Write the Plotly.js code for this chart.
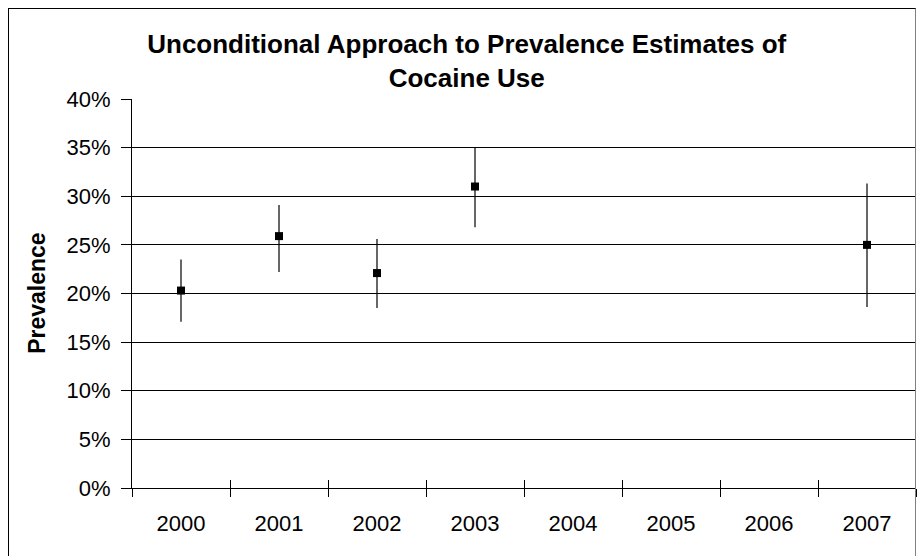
<!DOCTYPE html>
<html>
<head>
<meta charset="utf-8">
<script src="https://cdn.plot.ly/plotly-3.0.1.min.js"></script>
<style>
  html, body { margin: 0; padding: 0; background: #fff; overflow: hidden; }
  #wrap { position: relative; width: 917px; height: 556px; }
  #chart { position: absolute; left: 0; top: 0; width: 917px; height: 556px; }
  #frame {
    position: absolute; left: 8px; top: 8px; width: 908px; height: 600px;
    border-left: 1px solid #000; border-top: 1px solid #000; border-right: 1px solid #808080;
    pointer-events: none; box-sizing: border-box; z-index: 10;
  }
</style>
</head>
<body>
<div id="wrap">
  <div id="chart"></div>
  <div id="frame"></div>
</div>
<script>
// Categories (all years on the axis)
const years = ["2000", "2001", "2002", "2003", "2004", "2005", "2006", "2007"];
// Years with estimates
const estYears = ["2000", "2001", "2002", "2003", "2007"];
// Prevalence point estimates (fractions)
const prevalence = [0.203, 0.259, 0.221, 0.310, 0.250];
// Upper and lower confidence bounds (fractions)
const upperBound = [0.235, 0.291, 0.256, 0.350, 0.313];
const lowerBound = [0.171, 0.222, 0.185, 0.268, 0.186];
// Y tick values
const yTicks = [0, 0.05, 0.10, 0.15, 0.20, 0.25, 0.30, 0.35, 0.40];

const errPlus = prevalence.map((v, i) => +(upperBound[i] - v).toFixed(4));
const errMinus = prevalence.map((v, i) => +(v - lowerBound[i]).toFixed(4));

const FONT = "Liberation Sans, Arial, sans-serif";

const traces = [
  {
    type: "scatter",
    mode: "markers",
    x: estYears,
    y: prevalence,
    xaxis: "x",
    yaxis: "y",
    marker: { symbol: "square", size: 8, color: "#000" },
    error_y: {
      type: "data",
      symmetric: false,
      array: errPlus,
      arrayminus: errMinus,
      color: "#000",
      thickness: 1.2,
      width: 0
    },
    showlegend: false,
    hoverinfo: "x+y"
  },
  {
    // helper trace so the overlay axis knows all categories (draws inner tick marks)
    type: "scatter",
    mode: "markers",
    x: years,
    y: years.map(() => null),
    xaxis: "x2",
    yaxis: "y",
    marker: { opacity: 0 },
    showlegend: false,
    hoverinfo: "skip"
  }
];

const layout = {
  width: 917,
  height: 556,
  margin: { l: 132, r: 1, t: 99, b: 68 },
  paper_bgcolor: "#fff",
  plot_bgcolor: "#fff",
  font: { family: FONT, color: "#000" },
  title: {
    text: "<b>Unconditional Approach to Prevalence Estimates of<br>Cocaine Use</b>",
    font: { family: FONT, size: 26, color: "#000" },
    xref: "container",
    x: 0.509,
    xanchor: "center",
    yref: "container",
    y: 0.905,
    yanchor: "top"
  },
  xaxis: {
    type: "category",
    categoryorder: "array",
    categoryarray: years,
    range: [-0.5, 7.5],
    tickvals: years,
    ticktext: years,
    tickson: "boundaries",
    ticks: "outside",
    ticklen: 8,
    tickwidth: 1,
    tickcolor: "#000",
    showline: true,
    linecolor: "#000",
    linewidth: 1,
    showgrid: false,
    zeroline: false,
    tickfont: { family: FONT, size: 22, color: "#000" },
    ticklabelstandoff: 16,
    fixedrange: true
  },
  xaxis2: {
    type: "category",
    overlaying: "x",
    categoryorder: "array",
    categoryarray: years,
    range: [-0.5, 7.5],
    tickson: "boundaries",
    ticks: "inside",
    ticklen: 8,
    tickwidth: 1,
    tickcolor: "#000",
    showticklabels: false,
    showline: false,
    showgrid: false,
    zeroline: false,
    anchor: "y",
    side: "bottom",
    fixedrange: true
  },
  yaxis: {
    range: [0, 0.4],
    tickvals: yTicks,
    tickformat: ".0%",
    ticks: "outside",
    ticklen: 10,
    tickwidth: 1,
    tickcolor: "#000",
    showline: true,
    linecolor: "#000",
    linewidth: 1,
    showgrid: true,
    gridcolor: "#000",
    gridwidth: 1,
    zeroline: false,
    tickfont: { family: FONT, size: 22, color: "#000" },
    ticklabelstandoff: 6,
    automargin: false,
    fixedrange: true
  },
  annotations: [
    {
      text: "<b>Prevalence</b>",
      xref: "paper",
      yref: "paper",
      x: -0.122,
      y: 0.5,
      xanchor: "center",
      yanchor: "middle",
      textangle: -90,
      showarrow: false,
      font: { family: FONT, size: 23, color: "#000" }
    }
  ]
};

Plotly.newPlot("chart", traces, layout, { displayModeBar: false, staticPlot: true });
</script>
</body>
</html>
